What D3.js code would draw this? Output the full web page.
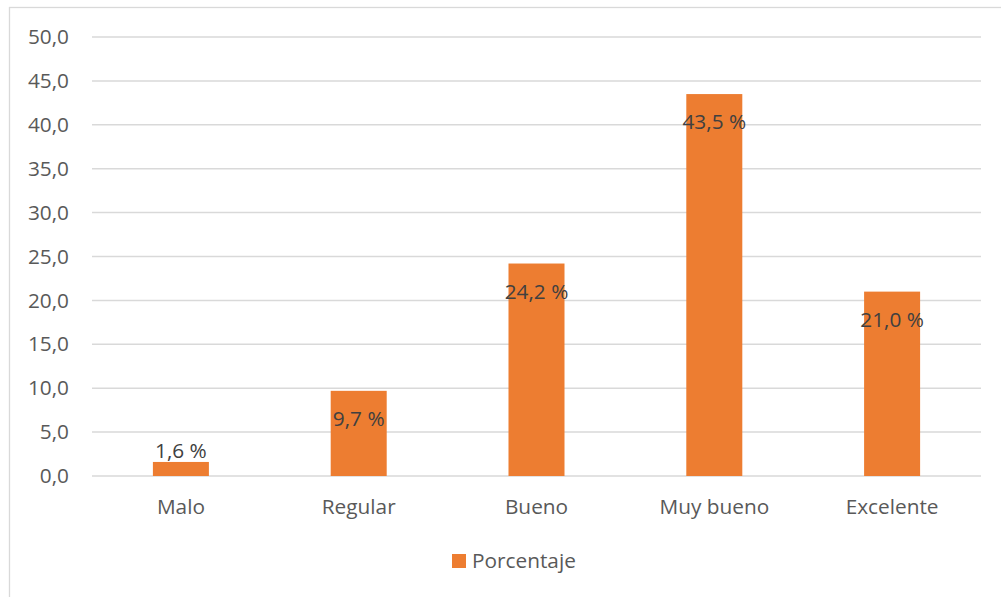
<!DOCTYPE html>
<html><head><meta charset="utf-8">
<script src="https://cdn.jsdelivr.net/npm/d3@7"></script>
<style>body{margin:0;background:#fff}svg{display:block}</style>
</head><body>
<script>
const categories = ["Malo","Regular","Bueno","Muy bueno","Excelente"];
const values = [1.6, 9.7, 24.2, 43.5, 21.0];
const yTicks = [0,5,10,15,20,25,30,35,40,45,50];
const seriesName = "Porcentaje";

const W = 1001, H = 597;
const svg = d3.select("body").append("svg").attr("width", W).attr("height", H);
const font = "'Open Sans', sans-serif";
const txt = "#595959";
const fs = 20.8;

svg.append("rect").attr("x", 9.5).attr("y", 7.5).attr("width", 1010).attr("height", 620)
  .attr("fill", "none").attr("stroke", "#d9d9d9").attr("stroke-width", 1.3);

const x0 = 92, x1 = 981, yTop = 37, yBot = 476;
const x = d3.scaleBand().domain(categories).range([x0, x1]).padding(0);
const y = d3.scaleLinear().domain([0, 50]).range([yBot, yTop]);

const grid = svg.append("g");
grid.selectAll("line").data(yTicks).join("line")
  .attr("x1", x0).attr("x2", x1)
  .attr("y1", d => y(d)).attr("y2", d => y(d))
  .attr("stroke", "#d9d9d9").attr("stroke-width", 1.5);

const yAxis = d3.axisLeft(y).tickValues(yTicks).tickSize(0).tickPadding(0)
  .tickFormat(d => d3.format(".1f")(d).replace(".", ","));
const ya = svg.append("g").attr("transform", `translate(69,0)`).call(yAxis);
ya.select(".domain").remove();
ya.selectAll("text").attr("font-family", font).attr("font-size", fs).attr("fill", txt);

const bw = x.bandwidth() * 0.315;
svg.append("g").selectAll("rect").data(values).join("rect")
  .attr("x", (d, i) => x(categories[i]) + x.bandwidth() / 2 - bw / 2)
  .attr("y", d => y(d))
  .attr("width", bw)
  .attr("height", d => yBot - y(d))
  .attr("fill", "#ED7D31");

svg.append("g").selectAll("text").data(values).join("text")
  .attr("x", (d, i) => x(categories[i]) + x.bandwidth() / 2)
  .attr("y", d => d < 5 ? y(d) - 11 : y(d) + 28)
  .attr("dy", "0.35em")
  .attr("text-anchor", "middle")
  .attr("font-family", font).attr("font-size", fs).attr("fill", "#404040")
  .text(d => d3.format(".1f")(d).replace(".", ",") + " %");

const xAxis = d3.axisBottom(x).tickSize(0).tickPadding(0);
const xa = svg.append("g").attr("transform", `translate(0,${yBot + 23})`).call(xAxis);
xa.select(".domain").remove();
xa.selectAll("text").attr("font-family", font).attr("font-size", fs).attr("fill", txt);

const lg = svg.append("g");
lg.append("rect").attr("x", 452).attr("y", 554).attr("width", 14).attr("height", 14).attr("fill", "#ED7D31");
lg.append("text").attr("x", 472).attr("y", 561).attr("dy", "0.35em")
  .attr("font-family", font).attr("font-size", fs).attr("fill", txt).text(seriesName);
</script>
</body></html>
